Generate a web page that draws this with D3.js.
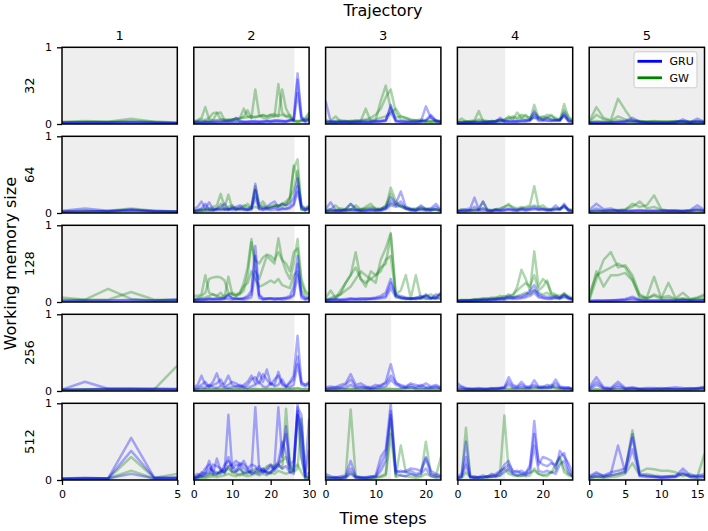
<!DOCTYPE html>
<html><head><meta charset="utf-8">
<script src="https://cdn.jsdelivr.net/npm/d3@7"></script>
<style>body{margin:0;background:#fff}svg{display:block;font-family:"DejaVu Sans",sans-serif}</style>
</head><body><svg id="c" width="708" height="531"></svg>
<script>
const trajectories = ["1","2","3","4","5"];
const memorySizes = ["32","64","128","256","512"];
const xMax = [5,30,23,27,16];
const shadeEnd = [5,26.2,13.1,11.2,16];
const xTicks = [[0,5],[0,10,20,30],[0,10,20],[0,10,20],[0,5,10,15]];
const yTicks = [0,1];
const seriesNames = ["GRU","GW"];

// values in percent (0-100), one list of traces per trajectory
const gru32 = [
 [[2,2,2,2,2,1],[1,2,2,3,2,1],[2,2,2,2,1,1]],
 [[2,2,2,2,2,2,2,2,3,3,3,4,3,3,3,4,3,3,3,4,4,5,4,4,4,5,6,58,8,4,8],[3,3,3,3,3,3,4,4,4,4,5,8,4,3,3,3,4,3,4,4,3,4,5,4,3,5,6,66,10,4,6],[1,1,1,2,2,2,2,2,2,2,2,2,2,2,2,2,2,2,2,3,3,3,3,3,3,4,4,40,6,2,5]],
 [[30,4,3,3,3,3,3,3,3,3,4,4,5,22,5,3,3,3,3,3,23,8,4,3],[5,3,2,3,3,2,3,3,3,3,3,4,5,15,4,4,3,3,3,4,5,12,5,3],[2,2,2,2,2,2,2,2,2,2,3,3,4,25,3,2,2,2,2,3,4,10,3,2]],
 [[2,2,2,2,2,2,2,2,3,3,8,4,3,3,4,4,5,6,17,6,5,8,6,5,5,15,5,3],[2,2,2,2,3,2,3,3,3,4,6,3,4,4,3,5,4,5,12,8,6,5,4,5,6,10,4,3],[1,1,2,2,2,2,2,2,2,2,3,3,3,3,3,3,3,4,10,4,4,4,4,4,4,12,3,2]],
 [[2,2,2,2,3,4,8,3,2,2,2,2,2,6,2,7,3],[2,2,2,2,2,3,5,3,2,2,2,2,3,4,2,4,2],[1,1,1,1,2,2,3,2,2,1,1,1,2,3,1,3,2]]
];
const gw32 = [
 [[3,4,3,7,3,2],[2,3,3,4,3,2]],
 [[4,5,8,22,6,5,14,15,5,5,6,5,8,20,10,8,45,12,8,7,9,10,52,15,10,8,4,3,4,6,12],[3,4,6,5,8,14,15,6,5,6,5,7,6,10,18,8,9,10,12,10,12,13,10,45,20,10,5,4,5,8,15],[2,3,3,4,4,5,5,6,6,5,6,7,8,8,9,10,9,10,11,10,12,10,11,12,10,12,4,3,4,5,8]],
 [[3,4,10,3,3,4,3,4,20,4,5,30,50,20,8,10,8,5,4,4,3,3,4,3],[2,3,4,5,4,3,4,5,6,8,12,20,35,45,15,6,5,4,5,6,5,4,5,4],[2,2,3,3,4,4,5,4,5,5,6,8,10,15,20,10,8,6,5,4,3,3,3,3]],
 [[3,7,3,4,5,17,4,3,4,3,4,5,10,6,15,8,12,6,25,8,10,8,12,6,5,26,8,4],[2,3,4,3,4,6,5,4,3,4,5,6,8,10,8,12,10,8,15,10,8,12,10,8,6,18,10,5],[2,2,3,3,3,4,3,3,4,4,5,5,6,8,6,8,6,6,8,7,6,8,6,6,5,12,6,4]],
 [[3,22,8,5,33,18,5,4,3,3,3,3,4,3,3,3,3],[2,12,6,4,10,6,4,3,3,4,3,3,3,3,3,3,3],[2,4,3,3,5,4,3,3,3,3,3,3,3,3,3,2,2]]
];
const gru64 = [
 [[3,6,3,4,3,2],[2,3,2,5,2,2],[1,2,2,3,2,1]],
 [[5,8,15,6,14,5,6,8,12,5,6,8,10,6,5,8,38,10,6,8,12,15,8,12,10,12,20,45,10,6,8],[3,4,6,12,5,4,5,6,5,4,8,5,6,5,4,5,30,6,5,6,6,8,5,6,5,8,12,35,8,4,6],[2,3,3,4,3,3,4,4,4,5,4,4,5,4,4,5,20,5,4,5,4,5,4,5,6,6,10,28,6,3,5]],
 [[5,14,4,3,5,12,5,3,4,5,4,5,8,20,12,28,8,5,4,10,5,6,12,4],[3,5,3,4,3,5,4,3,3,4,3,4,6,15,10,15,6,4,3,6,4,4,8,3],[2,3,2,2,3,3,3,2,2,3,3,3,5,10,8,10,5,3,3,4,3,3,5,2]],
 [[3,4,5,6,20,5,15,4,3,5,4,5,6,5,4,6,5,6,8,5,6,4,5,10,5,12,4,3],[2,3,3,4,8,4,6,3,3,4,3,4,5,4,3,5,4,5,6,5,5,4,4,6,5,10,3,2],[2,2,2,3,4,3,3,2,2,3,3,3,4,3,3,4,3,4,5,4,4,3,3,4,4,8,3,2]],
 [[4,12,5,6,3,3,3,4,3,3,3,3,3,3,4,10,4],[2,6,3,4,3,3,3,3,3,3,3,3,3,2,3,6,3],[1,3,2,2,2,2,2,2,2,2,2,2,2,2,2,4,2]]
];
const gw64 = [
 [[2,2,3,6,3,2],[1,2,2,3,2,2]],
 [[3,4,5,6,5,8,10,25,8,24,6,5,8,10,8,7,35,10,15,8,8,10,8,12,10,20,58,70,8,6,10],[2,3,4,5,6,5,6,12,5,8,10,6,5,8,12,6,30,8,10,6,7,8,10,8,12,15,62,45,5,4,8],[2,2,3,3,4,4,5,5,6,5,6,5,6,6,5,6,8,6,7,6,8,10,10,12,15,20,30,55,4,4,6]],
 [[3,5,10,4,5,12,6,4,8,12,5,4,6,33,15,8,6,5,6,8,6,4,5,4],[2,3,4,6,5,4,10,5,6,8,6,5,10,25,12,10,8,6,5,6,5,6,4,3],[2,2,3,3,4,5,4,5,5,6,5,6,8,12,10,8,6,5,4,5,5,4,4,3]],
 [[3,5,4,3,4,5,15,4,3,4,5,8,12,6,5,6,8,10,35,8,6,5,4,5,6,8,5,4],[2,3,3,4,3,4,6,5,4,5,6,8,10,8,6,8,6,8,10,8,10,6,5,6,5,10,5,3]],
 [[2,3,2,3,3,4,12,8,10,23,5,3,3,3,3,4,3],[2,2,3,3,4,5,8,15,6,8,4,3,3,2,3,3,2]]
];
const gru128 = [
 [[2,2,2,3,2,3],[1,2,2,2,2,3]],
 [[3,3,4,4,5,4,4,5,5,10,5,4,4,5,8,15,73,10,5,4,5,4,5,5,6,8,20,60,10,5,6],[2,3,3,3,4,4,5,4,5,8,5,5,4,5,6,10,60,8,4,5,5,5,4,5,5,6,10,50,8,4,5],[2,2,2,3,3,3,3,3,4,4,3,4,4,3,4,6,40,5,3,4,4,3,4,3,4,5,8,35,5,3,4]],
 [[3,3,4,3,4,5,4,5,4,5,6,8,12,30,8,6,5,4,6,5,8,6,5,12],[2,3,3,3,3,4,4,4,5,4,5,6,8,25,10,8,6,5,5,8,5,4,10,8],[2,2,2,2,2,3,3,3,3,4,4,5,6,18,6,5,4,4,4,5,10,5,6,4]],
 [[2,2,2,2,3,3,3,3,4,4,5,5,8,6,7,8,10,15,22,10,8,7,6,8,6,10,6,4],[1,2,2,2,2,2,3,3,3,3,4,4,6,5,6,6,8,12,16,8,6,5,5,6,5,8,5,3],[1,1,1,2,2,2,2,2,2,3,3,3,4,4,4,5,6,8,12,6,5,4,4,5,4,6,4,3]],
 [[2,2,2,2,3,4,7,3,2,2,2,2,2,3,2,2,3],[1,2,2,2,2,3,5,2,2,2,2,2,2,2,2,2,2],[1,1,1,2,2,2,3,2,1,1,1,1,1,2,1,1,2]]
];
const gw128 = [
 [[6,3,17,4,2,2],[3,3,3,13,3,3]],
 [[8,8,10,35,12,10,8,12,6,33,10,8,12,25,45,82,40,30,45,60,55,50,83,55,40,30,50,82,30,15,10],[4,5,8,12,30,32,33,32,28,12,10,8,10,15,35,78,55,50,58,62,60,55,65,55,50,40,65,70,25,12,8],[3,4,5,6,8,10,8,6,8,10,12,10,12,20,25,40,30,20,22,25,28,25,30,22,20,18,35,40,15,8,5]],
 [[5,15,5,10,25,35,65,30,20,40,35,45,50,88,10,15,35,5,35,5,8,5,4,6],[3,4,5,15,25,35,45,30,25,30,35,40,55,60,8,6,5,4,5,6,8,10,6,12],[2,5,8,10,15,20,30,40,35,30,25,55,70,90,8,5,4,5,4,5,4,5,5,10]],
 [[2,2,3,2,3,4,5,4,6,5,8,6,10,8,20,42,30,15,66,20,30,25,10,8,6,12,5,4],[2,3,2,3,4,3,4,5,4,6,5,8,6,10,15,20,25,20,35,15,20,28,12,10,8,10,8,5],[1,2,2,2,2,3,3,3,4,4,5,5,6,6,8,10,12,10,15,12,10,12,8,6,5,8,6,4]],
 [[2,30,55,65,45,48,35,10,5,8,4,5,3,4,3,5,8],[10,35,40,45,50,45,30,5,6,33,5,25,5,12,4,6,10],[3,40,20,35,35,38,28,8,4,10,6,8,4,5,3,4,4]]
];
const gru256 = [
 [[2,12,3,3,3,2],[2,2,3,3,3,3],[1,2,2,2,2,2]],
 [[5,8,20,8,6,12,23,8,10,20,8,6,5,8,12,20,10,24,12,28,10,8,25,10,6,12,20,72,12,8,12],[3,5,8,12,5,8,10,15,6,8,12,10,6,5,8,15,18,10,22,15,8,15,20,8,5,10,15,45,10,8,10],[2,3,5,4,8,5,4,6,5,4,5,6,8,5,4,6,8,12,6,5,10,6,8,15,6,5,8,35,8,6,8]],
 [[5,6,5,8,10,22,8,10,6,5,8,6,12,35,10,8,6,10,8,6,10,6,8,5],[3,4,5,5,8,15,6,6,5,4,5,8,10,20,12,6,5,8,5,8,5,5,6,4],[2,3,3,4,4,8,4,5,4,3,4,5,6,15,8,5,4,5,4,5,4,4,5,3]],
 [[10,6,4,3,3,4,3,3,4,3,4,5,18,8,6,12,6,5,14,6,5,8,6,15,6,5,4,3],[6,5,3,3,3,3,3,3,3,4,4,5,12,6,5,8,5,6,8,5,6,5,5,10,5,4,5,3],[3,3,2,2,2,2,2,2,3,3,3,4,8,4,4,5,4,4,6,4,4,4,4,6,4,3,3,2]],
 [[5,18,5,4,12,4,5,3,4,4,3,4,5,4,3,4,5],[3,12,4,3,8,3,4,3,3,3,4,3,3,3,4,3,4],[2,8,3,2,5,3,3,2,2,2,2,3,2,2,2,3,3]]
];
const gw256 = [
 [[2,2,3,3,2,33],[1,2,2,2,2,2]],
 [[2,2,2,3,2,2,3,2,2,3,2,2,3,3,2,2,3,2,3,2,2,3,3,2,3,2,3,4,2,3,3],[1,2,2,2,3,2,2,2,3,2,2,3,2,2,2,3,2,2,2,3,3,2,2,3,2,3,3,3,3,2,2]],
 [[2,2,2,3,2,2,3,2,2,2,3,2,3,3,2,3,4,5,3,2,3,2,3,2],[1,2,2,2,2,3,2,2,3,2,2,3,2,2,3,2,3,3,2,3,2,3,2,3]],
 [[2,2,2,2,2,2,2,2,2,2,3,3,3,3,3,3,3,3,4,4,4,5,8,4,3,3,3,2],[1,2,2,2,2,2,2,2,2,2,2,2,2,2,2,3,2,3,3,3,3,3,4,3,3,2,3,2]],
 [[2,2,2,2,2,2,2,2,2,2,2,2,2,2,3,3,6],[1,2,1,2,2,1,2,2,1,2,2,2,2,2,2,2,3]]
];
const gru512 = [
 [[2,3,2,55,3,3],[2,2,2,38,3,3],[1,2,2,8,2,2]],
 [[5,8,6,10,25,10,8,12,15,30,12,10,15,8,10,12,95,15,10,12,18,15,20,15,18,10,12,100,30,5,40],[3,5,8,15,20,8,28,12,10,85,15,20,18,25,15,20,18,12,15,8,10,20,95,30,70,15,20,90,70,10,80],[2,4,10,8,15,12,10,8,20,25,18,12,22,20,15,10,12,18,10,15,20,12,18,40,60,20,25,95,85,5,10],[2,3,5,6,8,20,18,15,10,18,20,25,20,15,12,8,10,8,12,10,10,15,25,50,35,10,8,85,60,3,5]],
 [[8,5,3,5,6,25,5,4,3,5,5,20,35,85,10,12,10,12,8,10,28,8,6,5],[5,3,4,3,4,15,4,3,4,4,6,30,40,100,12,10,12,15,14,12,30,12,8,6],[3,2,3,2,3,8,3,3,2,3,4,12,25,90,8,6,5,8,6,8,15,5,4,3]],
 [[5,8,50,5,3,4,6,4,8,5,10,20,25,10,12,8,10,15,77,20,30,28,25,15,38,30,22,8],[3,5,30,4,5,3,4,5,6,8,12,15,20,12,10,12,8,20,60,25,20,18,22,20,30,35,15,5],[2,4,20,3,3,3,3,4,4,5,6,10,15,8,6,8,6,10,45,12,10,12,10,8,20,25,10,4]],
 [[5,10,5,8,45,10,60,5,5,4,3,4,5,15,6,5,8],[4,8,6,10,12,15,55,8,6,5,4,5,6,10,5,6,5],[3,5,4,6,8,10,40,6,4,4,3,3,4,8,4,3,4]]
];
const gw512 = [
 [[2,2,2,30,3,8],[1,2,2,12,2,3]],
 [[3,5,4,8,10,6,8,10,12,15,10,8,6,10,12,8,10,12,15,10,8,15,20,15,93,20,10,15,80,5,3],[2,3,5,4,6,8,6,12,8,18,10,12,15,10,8,12,15,10,12,18,20,18,22,25,30,15,12,85,30,3,2],[2,2,3,3,4,5,4,5,6,8,6,5,8,6,5,6,8,6,8,6,10,8,12,10,8,10,15,20,10,2,2]],
 [[4,3,2,3,5,92,5,3,2,3,4,5,8,80,5,45,10,8,5,6,50,8,5,30],[2,3,3,2,3,10,3,2,3,2,3,4,6,60,4,6,5,4,3,4,8,5,3,5]],
 [[3,4,68,5,3,4,3,5,4,6,10,84,12,8,6,5,8,10,12,8,6,5,10,20,30,15,8,5],[2,3,10,4,3,3,4,3,5,4,6,15,8,6,5,6,5,6,15,8,6,8,10,12,28,10,6,4]],
 [[3,5,4,6,8,12,65,10,15,14,12,12,10,5,8,4,34],[2,4,3,4,5,8,22,6,8,6,5,5,4,8,4,3,5]]
];

const gruRows = [gru32, gru64, gru128, gru256, gru512];
const gwRows = [gw32, gw64, gw128, gw256, gw512];

const svg = d3.select("#c");
const W = 115.3, H = 76.7;
const colLeft = c => 62 + c * 131.8;
const rowTop = r => 47.3 + r * 89;
const y = d3.scaleLinear().domain([0, 1]).range([H, 0]);
const colors = {GRU: "#0000ff", GW: "#008000"};

memorySizes.forEach((m, r) => {
  trajectories.forEach((t, c) => {
    const g = svg.append("g").attr("transform", `translate(${colLeft(c)},${rowTop(r)})`);
    const x = d3.scaleLinear().domain([0, xMax[c]]).range([0, W]);
    const id = `clip${r}_${c}`;
    g.append("clipPath").attr("id", id).append("rect").attr("width", W).attr("height", H);
    g.append("rect").attr("width", W).attr("height", H).attr("fill", "#fff");
    g.append("rect").attr("width", x(shadeEnd[c])).attr("height", H).attr("fill", "#eeeeee");
    const line = d3.line().x((d, i) => x(i)).y(d => y(d / 100));
    const lg = g.append("g").attr("clip-path", `url(#${id})`);
    gwRows[r][c].forEach(tr => lg.append("path").attr("d", line(tr)).attr("fill", "none")
      .attr("stroke", colors.GW).attr("stroke-opacity", 0.32).attr("stroke-width", 2.5).attr("stroke-linejoin", "round"));
    gruRows[r][c].forEach(tr => lg.append("path").attr("d", line(tr)).attr("fill", "none")
      .attr("stroke", colors.GRU).attr("stroke-opacity", 0.32).attr("stroke-width", 2.5).attr("stroke-linejoin", "round"));
    g.append("rect").attr("width", W).attr("height", H).attr("fill", "none")
      .attr("stroke", "#000").attr("stroke-width", 1.5);
    if (c === 0) {
      const ax = g.append("g").call(d3.axisLeft(y).tickValues(yTicks).tickFormat(d3.format("d")).tickSize(5).tickPadding(5));
      ax.select(".domain").remove();
      ax.selectAll("line").attr("stroke-width", 1.3);
      ax.selectAll("text").attr("font-size", 11).attr("font-family", "DejaVu Sans");
      svg.append("text").attr("transform", `translate(33.5,${rowTop(r) + H / 2}) rotate(-90)`)
        .attr("text-anchor", "middle").attr("font-size", 13).text(m);
    }
    if (r === memorySizes.length - 1) {
      const ax = g.append("g").attr("transform", `translate(0,${H})`)
        .call(d3.axisBottom(x).tickValues(xTicks[c]).tickFormat(d3.format("d")).tickSize(5).tickPadding(5));
      ax.select(".domain").remove();
      ax.selectAll("line").attr("stroke-width", 1.3);
      ax.selectAll("text").attr("font-size", 11).attr("font-family", "DejaVu Sans");
    }
    if (r === 0) {
      svg.append("text").attr("x", colLeft(c) + W / 2).attr("y", 39.5)
        .attr("text-anchor", "middle").attr("font-size", 13).text(t);
    }
  });
});

svg.append("text").attr("x", 383).attr("y", 15.5).attr("text-anchor", "middle").attr("font-size", 16).text("Trajectory");
svg.append("text").attr("x", 383).attr("y", 524).attr("text-anchor", "middle").attr("font-size", 16).text("Time steps");
svg.append("text").attr("transform", `translate(16,${rowTop(0) + (rowTop(4) + H - rowTop(0)) / 2}) rotate(-90)`)
  .attr("text-anchor", "middle").attr("font-size", 16).text("Working memory size");

// legend in top-right panel
const lgd = svg.append("g").attr("transform", `translate(${colLeft(4) + W - 70.5},${rowTop(0) + 4.5})`);
lgd.append("rect").attr("width", 63).attr("height", 36).attr("rx", 2.5)
  .attr("fill", "#fff").attr("fill-opacity", 0.8).attr("stroke", "#cccccc").attr("stroke-width", 1);
seriesNames.forEach((s, i) => {
  const yy = 9.5 + i * 16.5;
  lgd.append("line").attr("x1", 3.5).attr("x2", 28).attr("y1", yy).attr("y2", yy)
    .attr("stroke", colors[s]).attr("stroke-width", 2.8);
  lgd.append("text").attr("x", 35.5).attr("y", yy + 4).attr("font-size", 11).text(s);
});
</script></body></html>
